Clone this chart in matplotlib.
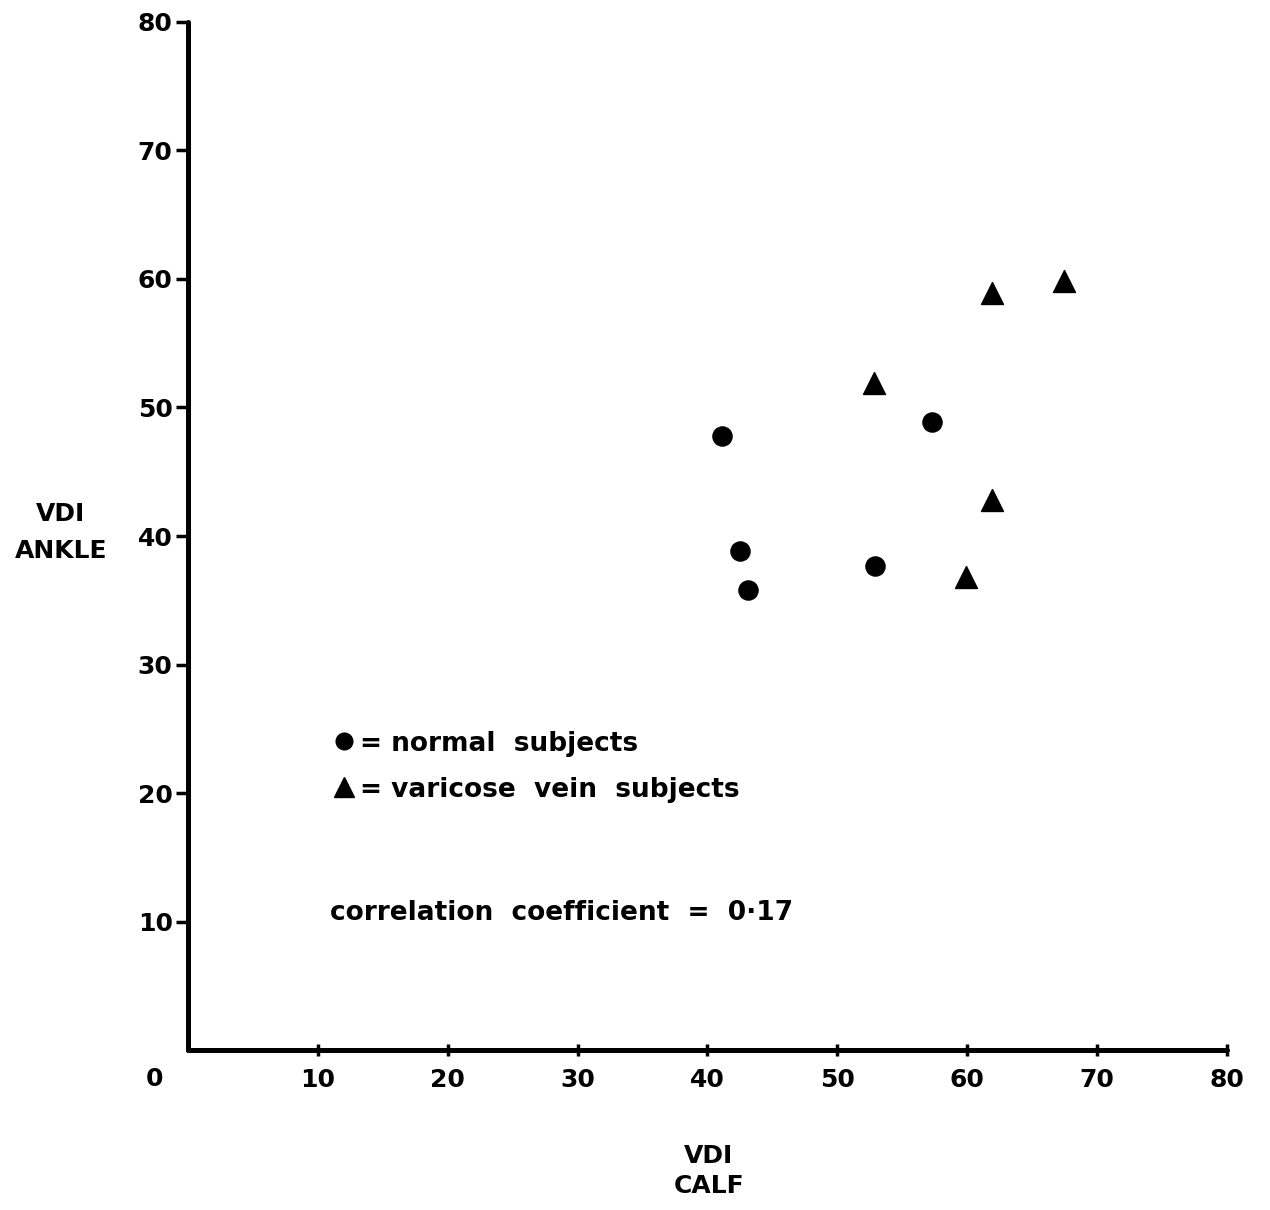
import matplotlib.pyplot as plt
from matplotlib.lines import Line2D

# --- data ---
normal_calf = [41.1, 42.5, 43.1, 52.9, 57.3]
normal_ankle = [47.8, 38.8, 35.8, 37.7, 48.9]
varicose_calf = [52.8, 61.9, 67.5, 61.9, 59.9]
varicose_ankle = [51.9, 58.9, 59.8, 42.8, 36.8]

x_ticks = [10, 20, 30, 40, 50, 60, 70, 80]
y_ticks = [10, 20, 30, 40, 50, 60, 70, 80]
correlation = "0·17"

plt.rcParams['font.family'] = ['DejaVu Sans']
plt.rcParams['font.weight'] = 'bold'

fig = plt.figure(figsize=(12.7, 12.1), dpi=100)
ax = fig.add_axes([0.148, 0.132, 0.818, 0.850])

ax.scatter(normal_calf, normal_ankle, marker='o', s=190, color='black', zorder=3)
ax.scatter(varicose_calf, varicose_ankle, marker='^', s=250, color='black', zorder=3)

ax.set_xlim(0, 80)
ax.set_ylim(0, 80)
for side in ['top', 'right']:
    ax.spines[side].set_visible(False)
for side in ['left', 'bottom']:
    ax.spines[side].set_linewidth(3.6)
    ax.spines[side].set_capstyle('round')

ax.set_xticks(x_ticks)
ax.set_xticklabels([str(t) for t in x_ticks], fontsize=18, fontweight='bold')
ax.set_yticks(y_ticks)
ax.set_yticklabels([str(t) for t in y_ticks], fontsize=18, fontweight='bold')
ax.tick_params(axis='x', direction='inout', length=9, width=2.5, pad=8)
ax.tick_params(axis='y', direction='out', length=9, width=2.5, pad=2)

# origin label sits left of the axis corner
ax.text(-2.6, -2.2, "0", fontsize=18, fontweight='bold', ha='center', va='center',
        clip_on=False)

ax.text(-9.8, 40.3, "VDI\nANKLE", fontsize=18, fontweight='bold', ha='center',
        va='center', linespacing=1.7, clip_on=False)
ax.text(40.1, -9.4, "VDI\nCALF", fontsize=18, fontweight='bold', ha='center',
        va='center', linespacing=1.35, clip_on=False)

# key
handles = [
    Line2D([], [], marker='o', linestyle='none', color='black', markersize=12),
    Line2D([], [], marker='^', linestyle='none', color='black', markersize=14),
]
ax.legend(handles, ["= normal  subjects", "= varicose  vein  subjects"],
          loc='upper left', bbox_to_anchor=(0.112, 0.334), frameon=False,
          handletextpad=0.0, handlelength=1.2, labelspacing=0.76,
          prop={'weight': 'bold', 'size': 19})

ax.text(0.137, 0.133, "correlation  coefficient  =  " + correlation,
        transform=ax.transAxes, fontsize=19, fontweight='bold', va='center')

fig.savefig("out.png", dpi=100, facecolor='white')
